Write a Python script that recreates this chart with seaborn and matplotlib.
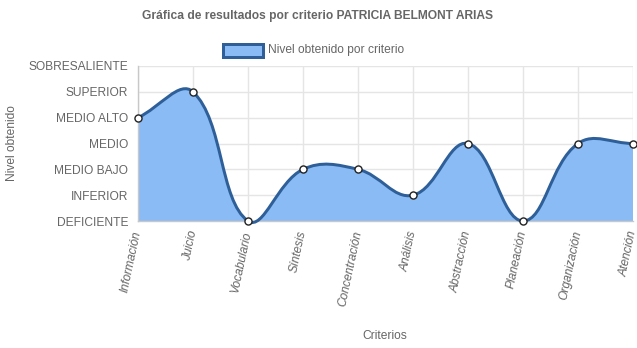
import numpy as np
import pandas as pd
import seaborn as sns
import matplotlib
matplotlib.use("Agg")
import matplotlib.pyplot as plt
from matplotlib.path import Path
from matplotlib.patches import PathPatch, Rectangle

criterios = ["Información", "Juicio", "Vocabulario", "Síntesis", "Concentración",
             "Análisis", "Abstracción", "Planeación", "Organización", "Atención"]
niveles = ["DEFICIENTE", "INFERIOR", "MEDIO BAJO", "MEDIO", "MEDIO ALTO",
           "SUPERIOR", "SOBRESALIENTE"]
puntajes = [4, 5, 0, 2, 2, 1, 3, 0, 3, 3]

titulo = "Gráfica de resultados por criterio PATRICIA BELMONT ARIAS"
serie = "Nivel obtenido por criterio"

sns.set_theme(style="white")
plt.rcParams["font.family"] = ["Liberation Sans", "DejaVu Sans"]

LINE = "#2e5f98"
FILL = "#8abbf5"
TXT = "#666666"
GRID = "#e5e5e5"
FS = 8.65

W, H = 637, 348
PX = 72 / 100  # points per pixel at 100 dpi
fig = plt.figure(figsize=(W / 100, H / 100), dpi=100)
ax = fig.add_axes([138 / W, (H - 221) / H, (633 - 138) / W, (221 - 66) / H])

df = pd.DataFrame({"x": np.arange(len(criterios)), "y": puntajes})
ax.set_xlim(0, len(criterios) - 1)
ax.set_ylim(0, len(niveles) - 1)

# Smooth curve (cardinal spline with tension 0.4, computed in display space)
fig.canvas.draw()
pts = ax.transData.transform(np.column_stack([df["x"], df["y"]]))
n = len(pts)
t = 0.4
cp_prev, cp_next = [], []
for i in range(n):
    p0 = pts[max(i - 1, 0)]
    p1 = pts[i]
    p2 = pts[min(i + 1, n - 1)]
    d01 = np.hypot(*(p1 - p0))
    d12 = np.hypot(*(p2 - p1))
    tot = d01 + d12
    s01 = d01 / tot if tot else 0
    s12 = d12 / tot if tot else 0
    cp_prev.append(p1 - t * s01 * (p2 - p0))
    cp_next.append(p1 + t * s12 * (p2 - p0))
inv = ax.transData.inverted()
verts = [pts[0]]
codes = [Path.MOVETO]
for i in range(n - 1):
    verts += [cp_next[i], cp_prev[i + 1], pts[i + 1]]
    codes += [Path.CURVE4] * 3
verts_d = inv.transform(np.array(verts))

line_path = Path(verts_d, codes)
fill_verts = np.vstack([verts_d, [[df["x"].iloc[-1], 0], [df["x"].iloc[0], 0], verts_d[0]]])
fill_codes = codes + [Path.LINETO, Path.LINETO, Path.CLOSEPOLY]
ax.add_patch(PathPatch(Path(fill_verts, fill_codes), facecolor=FILL, edgecolor="none",
                       zorder=2, clip_on=False))
ax.add_patch(PathPatch(line_path, facecolor="none", edgecolor=LINE, linewidth=3 * PX,
                       zorder=3, clip_on=False, capstyle="round", joinstyle="round"))

sns.scatterplot(data=df, x="x", y="y", ax=ax, s=26, color="white", edgecolor="#222222",
                linewidth=1.0, zorder=4, clip_on=False, legend=False)

# Axes styling
ax.set_xticks(df["x"])
ax.set_xticklabels(criterios, rotation=78, rotation_mode="anchor", ha="right",
                   va="center", color=TXT, fontsize=FS, fontstyle="italic")
ax.set_yticks(range(len(niveles)))
ax.set_yticklabels(niveles, color=TXT, fontsize=FS)
ax.grid(True, color=GRID, linewidth=1, zorder=0)
ax.set_axisbelow(True)
ax.tick_params(axis="x", length=8 * PX, width=1, color=GRID, pad=2 * PX)
ax.tick_params(axis="y", length=8 * PX, width=1, color=GRID, pad=2 * PX)
for s in ["top", "right"]:
    ax.spines[s].set_visible(False)
for s in ["left", "bottom"]:
    ax.spines[s].set_color("#c8c8c8")
    ax.spines[s].set_linewidth(1)
ax.set_xlabel("Criterios", color=TXT, fontsize=FS)
ax.set_ylabel("Nivel obtenido", color=TXT, fontsize=FS)
ax.xaxis.set_label_coords((385 - 138) / (633 - 138), -(336 - 221) / (221 - 66))
ax.yaxis.set_label_coords(-(138 - 12) / (633 - 138), (221 - 143) / (221 - 66))
ax.xaxis.label.set_va("center")
ax.yaxis.label.set_va("center")

fig.text(318 / W, 1 - 16 / H, titulo, ha="center", va="center", color=TXT,
         fontsize=FS, fontweight="bold")

# Legend entry
fig.patches.append(Rectangle((223 / W, 1 - 57 / H), 40 / W, 13 / H, transform=fig.transFigure,
                             facecolor=FILL, edgecolor=LINE, linewidth=3 * PX))
fig.text(268 / W, 1 - 50 / H, serie, ha="left", va="center", color=TXT, fontsize=FS)

fig.savefig("out.png", dpi=100)
